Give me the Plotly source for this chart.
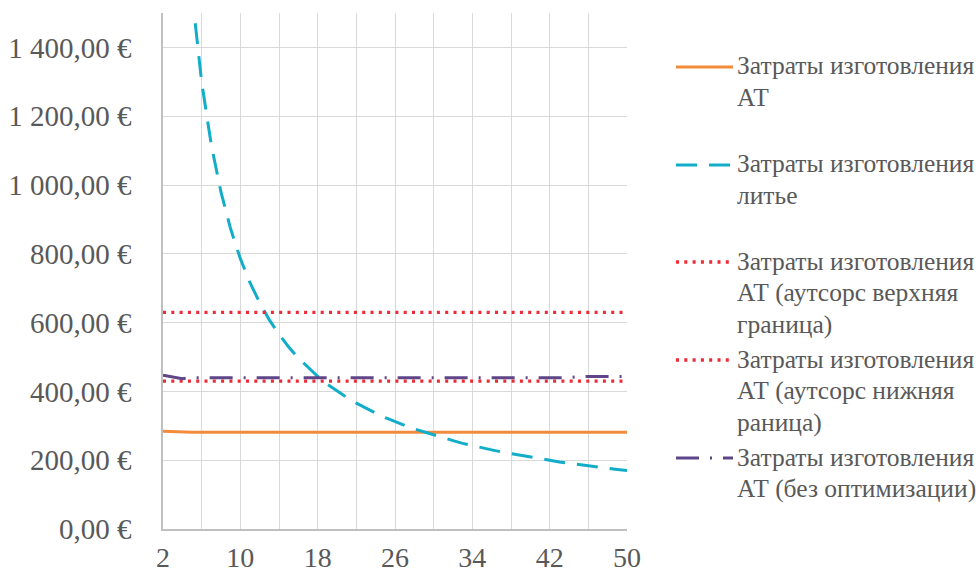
import plotly.graph_objects as go

# ---------------- data ----------------
n_units = [2, 3, 4, 5, 6, 7, 8, 9, 10, 11, 12, 13, 14, 15, 16, 17, 18, 19, 20, 21,
           22, 23, 24, 25, 26, 27, 28, 29, 30, 31, 32, 33, 34, 35, 36, 37, 38, 39,
           40, 41, 42, 43, 44, 45, 46, 47, 48, 49, 50]

cost_at = [284, 282.5, 281, 281, 281, 281, 281, 281, 281, 281, 281, 281, 281, 281,
           281, 281, 281, 281, 281, 281, 281, 281, 281, 281, 281, 281, 281, 281, 281,
           281, 281, 281, 281, 281, 281, 281, 281, 281, 281, 281, 281, 281, 281, 281,
           281, 281, 281, 281, 281]

cost_casting = [3866, 2583, 1941, 1556, 1299, 1116, 979, 872, 786, 716, 658, 608, 566,
                529, 497, 469, 444, 421, 401, 383, 366, 351, 337, 324, 312, 301, 291,
                282, 273, 264, 257, 249, 242, 236, 230, 224, 219, 213, 209, 204, 199,
                195, 191, 187, 183, 180, 176, 173, 170]

cost_outsource_upper = [630, 630, 630, 630, 630, 630, 630, 630, 630, 630, 630, 630, 630,
                        630, 630, 630, 630, 630, 630, 630, 630, 630, 630, 630, 630, 630,
                        630, 630, 630, 630, 630, 630, 630, 630, 630, 630, 630, 630, 630,
                        630, 630, 630, 630, 630, 630, 630, 630, 630, 630]

cost_outsource_lower = [430, 430, 430, 430, 430, 430, 430, 430, 430, 430, 430, 430, 430,
                        430, 430, 430, 430, 430, 430, 430, 430, 430, 430, 430, 430, 430,
                        430, 430, 430, 430, 430, 430, 430, 430, 430, 430, 430, 430, 430,
                        430, 430, 430, 430, 430, 430, 430, 430, 430, 430]

cost_no_opt = [447, 442, 437, 440, 440, 440, 440, 440, 440, 440, 440, 440, 440, 440,
               440, 440, 440, 440, 440, 440, 440, 440, 440, 440, 440, 440, 440, 440,
               440, 440, 440, 440, 440, 440, 440, 440, 440, 440, 440, 440, 440, 440,
               440, 443, 443, 443, 443, 443, 443]

series_names = [
    "Затраты изготовления<br>АТ",
    "Затраты изготовления<br>литье",
    "Затраты изготовления<br>АТ (аутсорс верхняя<br>граница)",
    "Затраты изготовления<br>АТ (аутсорс нижняя<br>раница)",
    "Затраты изготовления<br>АТ (без оптимизации)",
]

x_tickvals = [2, 10, 18, 26, 34, 42, 50]
x_ticktext = ["2", "10", "18", "26", "34", "42", "50"]
y_tickvals = [0, 200, 400, 600, 800, 1000, 1200, 1400]
y_ticktext = ["0,00 €", "200,00 €", "400,00 €", "600,00 €", "800,00 €",
              "1\u00a0000,00 €", "1\u00a0200,00 €", "1\u00a0400,00 €"]

# ---------------- styles ----------------
FONT = "Liberation Serif"
TXT = "#595959"
styles = [
    dict(color="#F28C3C", width=3, dash="solid"),
    dict(color="#12ADC9", width=3, dash="21px,12px"),
    dict(color="#EE2A36", width=3.3, dash="3px,5.3px"),
    dict(color="#EE2A36", width=3.3, dash="3px,5.3px"),
    dict(color="#5E4688", width=3, dash="23px,11px,2px,11px"),
]
series_values = [cost_at, cost_casting, cost_outsource_upper, cost_outsource_lower, cost_no_opt]

fig = go.Figure()
for name, vals, st in zip(series_names, series_values, styles):
    fig.add_trace(go.Scatter(x=n_units, y=vals, mode="lines", name=name,
                             line=st, showlegend=False, hoverinfo="x+y"))

# ---------------- layout ----------------
W, H = 979, 574
ML, MR, MT, MB = 163, 352, 13, 45
PW, PH = W - ML - MR, H - MT - MB


def px_paper(px, py):
    return (px - ML) / PW, (H - MB - py) / PH


# manual legend (long line samples like the original), one annotation per text line
legend_line_y = [67, 165, 262, 360, 458]
LINE_STEP = 31.5
shapes = []
annotations = []
for name, st, ly in zip(series_names, styles, legend_line_y):
    x0, y0 = px_paper(676, ly)
    x1, _ = px_paper(733, ly)
    shapes.append(dict(type="line", xref="paper", yref="paper", x0=x0, x1=x1,
                       y0=y0, y1=y0, line=st, layer="above"))
    for i, part in enumerate(name.split("<br>")):
        tx, ty = px_paper(736, ly - 1 + i * LINE_STEP)
        annotations.append(dict(xref="paper", yref="paper", x=tx, y=ty, text=part,
                                showarrow=False, xanchor="left", yanchor="middle",
                                align="left", borderpad=0,
                                font=dict(family=FONT, size=25.5, color=TXT)))

fig.update_layout(
    width=W, height=H,
    margin=dict(l=ML, r=MR, t=MT, b=MB, pad=0, autoexpand=False),
    paper_bgcolor="white", plot_bgcolor="white",
    font=dict(family=FONT, color=TXT),
    showlegend=False,
    shapes=shapes,
    annotations=annotations,
    xaxis=dict(range=[2, 50], tickvals=x_tickvals, ticktext=x_ticktext,
               showgrid=True, gridcolor="#D9D9D9", gridwidth=1,
               minor=dict(tick0=2, dtick=4, showgrid=True, gridcolor="#D9D9D9", gridwidth=1),
               showline=True, linecolor="#BFBFBF", linewidth=1.5,
               zeroline=False, ticks="", ticklabelstandoff=3, automargin=False,
               tickfont=dict(family=FONT, size=28, color=TXT)),
    yaxis=dict(range=[0, 1500], tickvals=y_tickvals, ticktext=y_ticktext,
               showgrid=True, gridcolor="#D9D9D9", gridwidth=1,
               showline=True, linecolor="#BFBFBF", linewidth=1.5,
               zeroline=False, ticks="", ticklabelstandoff=24, automargin=False,
               tickfont=dict(family=FONT, size=29, color=TXT)),
)

fig.write_html("out.html")
